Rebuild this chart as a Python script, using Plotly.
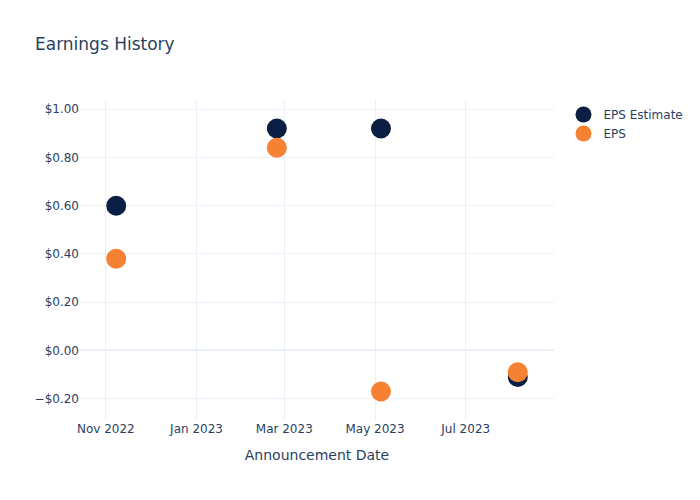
import plotly.graph_objects as go

dates = ["2022-11-08", "2023-02-24", "2023-05-05", "2023-08-05"]
eps_estimate = [0.60, 0.92, 0.92, -0.11]
eps_actual = [0.38, 0.84, -0.17, -0.09]

fig = go.Figure()
fig.add_trace(go.Scatter(x=dates, y=eps_estimate, mode="markers", name="EPS Estimate",
                         marker=dict(color="#0b1f44", size=20)))
fig.add_trace(go.Scatter(x=dates, y=eps_actual, mode="markers", name="EPS",
                         marker=dict(color="#f58233", size=20)))
fig.update_layout(
    template="plotly_white",
    font=dict(family="DejaVu Sans"),
    title="Earnings History",
    width=700, height=500,
    xaxis=dict(title="Announcement Date"),
    yaxis=dict(tickformat="$.2f"),
)
fig.write_html("out.html")
